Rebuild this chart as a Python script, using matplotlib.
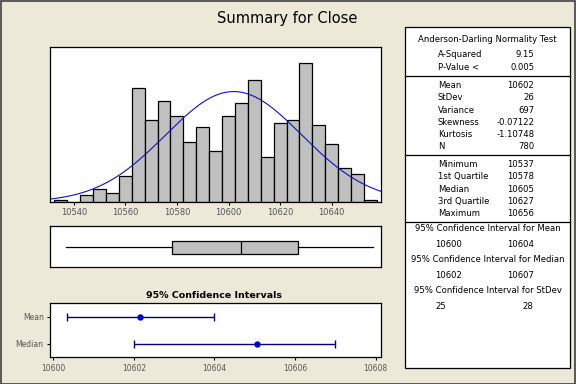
import numpy as np
import matplotlib
matplotlib.use("Agg")
import matplotlib.pyplot as plt
from matplotlib.patches import Rectangle

# ---------------- data ----------------
bin_centers = [10535, 10540, 10545, 10550, 10555, 10560, 10565, 10570, 10575,
               10580, 10585, 10590, 10595, 10600, 10605, 10610, 10615, 10620,
               10625, 10630, 10635, 10640, 10645, 10650, 10655]
counts = [1, 0, 4, 7, 5, 14, 61, 44, 54, 46, 32, 40, 27, 46, 53, 65, 24, 42,
          44, 74, 41, 31, 18, 15, 1]
bin_width = 5
n_obs = 780
mean_val = 10602
sd_val = 26.4

box_min, box_q1, box_med, box_q3, box_max = 10537, 10578, 10605, 10627, 10656

ci_labels = ["Median", "Mean"]
ci_centers = [10605.05, 10602.16]
ci_low = [10602.0, 10600.33]
ci_high = [10607.0, 10603.99]

hist_ticks = [10540, 10560, 10580, 10600, 10620, 10640]
ci_ticks = [10600, 10602, 10604, 10606, 10608]

ad_rows = [("A-Squared", "9.15"), ("P-Value <", "0.005")]
moment_rows = [("Mean", "10602"), ("StDev", "26"), ("Variance", "697"),
               ("Skewness", "-0.07122"), ("Kurtosis", "-1.10748"), ("N", "780")]
quant_rows = [("Minimum", "10537"), ("1st Quartile", "10578"), ("Median", "10605"),
              ("3rd Quartile", "10627"), ("Maximum", "10656")]
ci_rows = [("95% Confidence Interval for Mean", "10600", "10604"),
           ("95% Confidence Interval for Median", "10602", "10607"),
           ("95% Confidence Interval for StDev", "25", "28")]

# ---------------- figure ----------------
W, H = 576, 384
BG = "#ECE9D8"
fig = plt.figure(figsize=(W / 100, H / 100), dpi=100, facecolor=BG)
plt.rcParams['font.family'] = ['DejaVu Sans']

def ax_px(l, t, r, b):
    return [l / W, 1 - b / H, (r - l) / W, (b - t) / H]

xlim_main = (10530.8, 10659.1)
tick_color = "#555555"

# Histogram
axh = fig.add_axes(ax_px(50, 47, 381, 202))
axh.bar(bin_centers, counts, width=bin_width, color="#C0C0C0",
        edgecolor="black", linewidth=0.9)
xs = np.linspace(xlim_main[0], xlim_main[1], 400)
pdf = n_obs * bin_width / (sd_val * np.sqrt(2 * np.pi)) * np.exp(-0.5 * ((xs - mean_val) / sd_val) ** 2)
axh.plot(xs, pdf, color="#1010C0", linewidth=0.8)
axh.set_xlim(*xlim_main)
axh.set_ylim(0, 82.7)
axh.set_yticks([])
axh.set_xticks(hist_ticks)
axh.set_xticklabels([str(t) for t in hist_ticks])
axh.tick_params(axis='x', length=2.5, width=0.8, pad=2, labelsize=6, labelcolor=tick_color)
for s in axh.spines.values():
    s.set_linewidth(0.9)

# Boxplot
axb = fig.add_axes(ax_px(50, 226, 381, 267.3))
stats = [dict(med=box_med, q1=box_q1, q3=box_q3, whislo=box_min, whishi=box_max, fliers=[])]
axb.bxp(stats, positions=[0.48], widths=0.33, vert=False, patch_artist=True,
        showcaps=False,
        boxprops=dict(facecolor="#C0C0C0", edgecolor="black", linewidth=0.9),
        medianprops=dict(color="black", linewidth=0.9),
        whiskerprops=dict(color="black", linewidth=0.9))
axb.set_xlim(*xlim_main)
axb.set_ylim(0, 1)
axb.set_xticks([])
axb.set_yticks([])
for s in axb.spines.values():
    s.set_linewidth(0.9)

# Confidence intervals
axc = fig.add_axes(ax_px(50, 303.3, 381, 357.3))
ypos = [1, 2]
for y, c, lo, hi in zip(ypos, ci_centers, ci_low, ci_high):
    axc.errorbar([c], [y], xerr=[[c - lo], [hi - c]], fmt='o', color="#0000C8",
                 ecolor="#000080", elinewidth=1.0, capsize=3.2, capthick=1.0,
                 markersize=3.6)
axc.set_xlim(10599.92, 10608.13)
axc.set_ylim(0.5, 2.5)
axc.set_xticks(ci_ticks)
axc.set_xticklabels([str(t) for t in ci_ticks])
axc.set_yticks(ypos)
axc.set_yticklabels(ci_labels)
axc.tick_params(axis='both', length=2.5, width=0.8, pad=2, labelsize=5.5, labelcolor=tick_color)
for s in axc.spines.values():
    s.set_linewidth(0.9)

# Overlay axes in pixel coordinates for text / table
ov = fig.add_axes([0, 0, 1, 1], facecolor="none")
ov.set_xlim(0, W)
ov.set_ylim(H, 0)
ov.axis("off")
ov.set_zorder(-1)

ov.text(287, 18, "Summary for Close", ha="center", va="center", fontsize=10.5, color="black")
ov.text(214, 295, "95% Confidence Intervals", ha="center", va="center",
        fontsize=6.8, fontweight="bold", color="black")

# Table
ov.add_patch(Rectangle((405, 27.3), 165, 340.4, facecolor="white", edgecolor="black", linewidth=0.9))
for yy in [75.7, 154.7, 221.7]:
    ov.plot([405, 570], [yy, yy], color="black", linewidth=0.9)

tfs = 6.1
xl, xr, xc = 437.7, 534.3, 487.5
ov.text(xc, 40, "Anderson-Darling Normality Test", ha="center", va="center", fontsize=tfs)
for (lab, val), yy in zip(ad_rows, [54.7, 67.3]):
    ov.text(xl, yy, lab, ha="left", va="center", fontsize=tfs)
    ov.text(xr, yy, val, ha="right", va="center", fontsize=tfs)
for i, (lab, val) in enumerate(moment_rows):
    yy = 85.7 + i * 12.2
    ov.text(xl, yy, lab, ha="left", va="center", fontsize=tfs)
    ov.text(xr, yy, val, ha="right", va="center", fontsize=tfs)
for i, (lab, val) in enumerate(quant_rows):
    yy = 164.7 + i * 12.2
    ov.text(xl, yy, lab, ha="left", va="center", fontsize=tfs)
    ov.text(xr, yy, val, ha="right", va="center", fontsize=tfs)
for i, (head, v1, v2) in enumerate(ci_rows):
    yh = 228.7 + i * 31
    ov.text(xc, yh, head, ha="center", va="center", fontsize=tfs)
    ov.text(435, yh + 16, v1, ha="left", va="center", fontsize=tfs)
    ov.text(533.5, yh + 16, v2, ha="right", va="center", fontsize=tfs)

# outer frame
fig.patches.append(Rectangle((0.5 / W, 0.5 / H), (W - 1.5) / W, (H - 1.5) / H,
                             transform=fig.transFigure, fill=False,
                             edgecolor="#404040", linewidth=1.2))

fig.savefig("out.png", dpi=100, facecolor=BG)
